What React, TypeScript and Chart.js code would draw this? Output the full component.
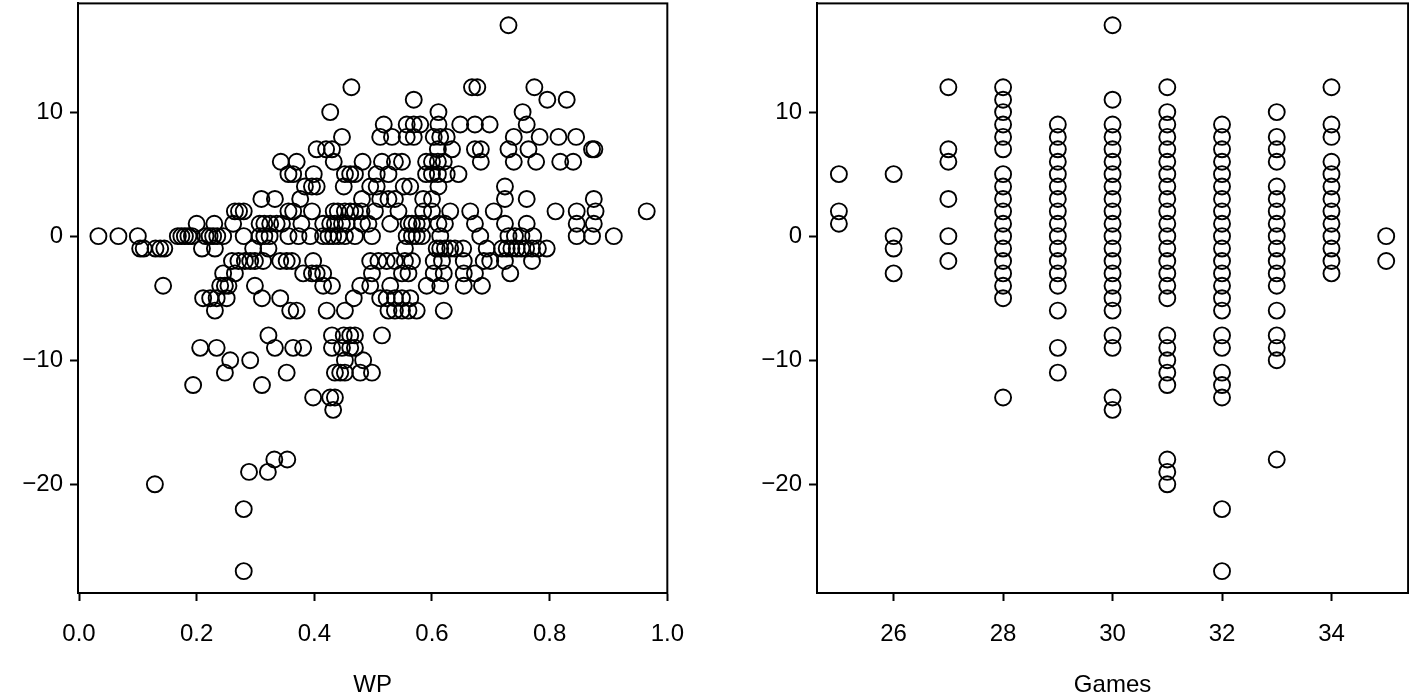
import React, { useEffect, useRef } from "react";
import { Chart, registerables } from "chart.js";

Chart.register(...registerables);

// ---------- Left panel: WP vs run differential ----------
const diffLevels = [17, 12, 11, 10, 9, 8, 7, 6, 5, 4, 3, 2, 1, 0, -1, -2, -3, -4, -5, -6, -8, -9, -10, -11, -12, -13, -14, -18, -19, -20, -22, -27];
const wpAtLevel: number[][] = [
  [0.73],
  [0.463, 0.668, 0.677, 0.774],
  [0.569, 0.796, 0.829],
  [0.427, 0.611, 0.754],
  [0.518, 0.557, 0.569, 0.58, 0.611, 0.648, 0.673, 0.698, 0.761],
  [0.447, 0.512, 0.532, 0.557, 0.569, 0.603, 0.614, 0.625, 0.739, 0.783, 0.815, 0.845],
  [0.404, 0.42, 0.43, 0.61, 0.634, 0.673, 0.683, 0.73, 0.764, 0.872, 0.876],
  [0.343, 0.37, 0.433, 0.482, 0.515, 0.537, 0.549, 0.59, 0.6, 0.61, 0.62, 0.683, 0.739, 0.777, 0.818, 0.84],
  [0.356, 0.364, 0.399, 0.452, 0.461, 0.469, 0.506, 0.526, 0.59, 0.6, 0.61, 0.625, 0.645],
  [0.384, 0.396, 0.404, 0.45, 0.495, 0.506, 0.552, 0.563, 0.611, 0.724],
  [0.31, 0.333, 0.376, 0.481, 0.512, 0.526, 0.537, 0.585, 0.6, 0.724, 0.761, 0.875],
  [0.265, 0.272, 0.28, 0.356, 0.364, 0.396, 0.433, 0.44, 0.452, 0.461, 0.469, 0.48, 0.503, 0.543, 0.585, 0.6, 0.631, 0.665, 0.705, 0.81, 0.846, 0.878, 0.965],
  [0.2, 0.23, 0.262, 0.307, 0.315, 0.325, 0.336, 0.345, 0.378, 0.415, 0.427, 0.435, 0.447, 0.455, 0.481, 0.492, 0.529, 0.56, 0.566, 0.574, 0.583, 0.611, 0.622, 0.673, 0.724, 0.761, 0.846, 0.875],
  [0.033, 0.067, 0.1, 0.168, 0.174, 0.18, 0.186, 0.192, 0.215, 0.222, 0.228, 0.235, 0.245, 0.28, 0.307, 0.315, 0.324, 0.356, 0.373, 0.393, 0.415, 0.424, 0.432, 0.441, 0.452, 0.469, 0.498, 0.557, 0.566, 0.574, 0.583, 0.614, 0.682, 0.73, 0.741, 0.752, 0.772, 0.846, 0.872, 0.909],
  [0.104, 0.11, 0.13, 0.138, 0.145, 0.209, 0.231, 0.296, 0.322, 0.554, 0.608, 0.614, 0.622, 0.631, 0.639, 0.653, 0.693, 0.719, 0.727, 0.735, 0.744, 0.752, 0.76, 0.77, 0.78, 0.795],
  [0.26, 0.271, 0.282, 0.291, 0.299, 0.313, 0.342, 0.353, 0.362, 0.398, 0.495, 0.509, 0.523, 0.537, 0.554, 0.566, 0.603, 0.617, 0.654, 0.688, 0.699, 0.724, 0.77],
  [0.245, 0.265, 0.381, 0.396, 0.404, 0.415, 0.498, 0.549, 0.56, 0.603, 0.62, 0.654, 0.673, 0.733],
  [0.143, 0.24, 0.248, 0.254, 0.299, 0.415, 0.43, 0.478, 0.495, 0.529, 0.591, 0.614, 0.654, 0.685],
  [0.211, 0.223, 0.234, 0.251, 0.311, 0.342, 0.467, 0.512, 0.523, 0.537, 0.549, 0.563],
  [0.231, 0.359, 0.37, 0.421, 0.452, 0.526, 0.537, 0.549, 0.56, 0.574, 0.62],
  [0.322, 0.43, 0.45, 0.461, 0.469, 0.515],
  [0.206, 0.234, 0.333, 0.364, 0.381, 0.43, 0.447, 0.461, 0.469],
  [0.257, 0.291, 0.452, 0.483],
  [0.248, 0.353, 0.435, 0.444, 0.452, 0.478, 0.498],
  [0.194, 0.311],
  [0.398, 0.427, 0.435],
  [0.432],
  [0.332, 0.354],
  [0.289, 0.321],
  [0.129],
  [0.28],
  [0.28],
];
const wpTicks = [0, 0.2, 0.4, 0.6, 0.8, 1.0];

// ---------- Right panel: Games vs run differential ----------
const gameCounts = [25, 26, 27, 28, 29, 30, 31, 32, 33, 34, 35];
const diffAtGames: number[][] = [
  [5, 2, 1],
  [5, 0, -1, -3],
  [12, 7, 6, 3, 0, -2],
  [12, 11, 10, 9, 8, 7, 5, 4, 3, 2, 1, 0, -1, -2, -3, -4, -5, -13],
  [9, 8, 7, 6, 5, 4, 3, 2, 1, 0, -1, -2, -3, -4, -6, -9, -11],
  [17, 11, 9, 8, 7, 6, 5, 4, 3, 2, 1, 0, -1, -2, -3, -4, -5, -6, -8, -9, -13, -14],
  [12, 10, 9, 8, 7, 6, 5, 4, 3, 2, 1, 0, -1, -2, -3, -4, -5, -8, -9, -10, -11, -12, -18, -19, -20],
  [9, 8, 7, 6, 5, 4, 3, 2, 1, 0, -1, -2, -3, -4, -5, -6, -8, -9, -11, -12, -13, -22, -27],
  [10, 8, 7, 6, 4, 3, 2, 1, 0, -1, -2, -3, -4, -6, -8, -9, -10, -18],
  [12, 9, 8, 6, 5, 4, 3, 2, 1, 0, -1, -2, -3],
  [0, -2],
];
const gameTicks = [26, 28, 30, 32, 34];
const diffTicks = [-20, -10, 0, 10];

const FONT = { family: "'Liberation Sans', Arial, Helvetica, sans-serif", size: 24 };
const TOP_SHIFT = 18;

const boxPlugin = {
  id: "rbox",
  afterDraw(chart: any) {
    const { ctx, chartArea } = chart;
    ctx.save();
    ctx.strokeStyle = "#000";
    ctx.lineWidth = 2;
    ctx.strokeRect(chartArea.left, chartArea.top, chartArea.right - chartArea.left, chartArea.bottom - chartArea.top);
    ctx.restore();
  },
};

function fmtMinus(v: number, digits: number) {
  const s = Math.abs(v).toFixed(digits);
  return v < 0 ? "\u2212" + s : s;
}

function makeChart(
  canvas: HTMLCanvasElement,
  points: { x: number; y: number }[],
  xMin: number,
  xMax: number,
  xTicks: number[],
  xDigits: number,
  xTitle: string,
  yWidth: number,
  rightPad: number
) {
  return new Chart(canvas, {
    type: "scatter",
    data: {
      datasets: [
        {
          data: points,
          pointStyle: "circle",
          pointRadius: 8,
          pointBorderWidth: 1.9,
          pointBorderColor: "#000",
          pointBackgroundColor: "rgba(0,0,0,0)",
          clip: false as any,
        },
      ],
    },
    options: {
      animation: false,
      responsive: false,
      events: [],
      layout: { padding: { top: 2, right: rightPad, left: 0, bottom: 0 } },
      plugins: { legend: { display: false }, tooltip: { enabled: false } },
      scales: {
        x: {
          type: "linear",
          min: xMin,
          max: xMax,
          afterBuildTicks: (s: any) => {
            s.ticks = xTicks.map((v) => ({ value: v }));
          },
          afterFit: (s: any) => {
            s.height = 101;
          },
          ticks: {
            callback: (v: any) => fmtMinus(Number(v), xDigits),
            font: FONT,
            color: "#000",
            padding: 19,
            maxRotation: 0,
            autoSkip: false,
          },
          grid: { drawOnChartArea: false, drawTicks: true, tickLength: 8, tickWidth: 2, tickColor: "#000" },
          border: { display: true, color: "#000", width: 2 },
          title: { display: true, text: xTitle, font: { ...FONT, lineHeight: 0.75 }, color: "#000", padding: { top: 0, bottom: 0 } },
        },
        y: {
          type: "linear",
          min: -28.76,
          max: 18.76,
          afterBuildTicks: (s: any) => {
            s.ticks = diffTicks.map((v) => ({ value: v }));
          },
          afterFit: (s: any) => {
            s.width = yWidth;
          },
          ticks: {
            callback: (v: any) => fmtMinus(Number(v), 0),
            font: FONT,
            color: "#000",
            padding: 7,
            autoSkip: false,
          },
          grid: { drawOnChartArea: false, drawTicks: true, tickLength: 8, tickWidth: 2, tickColor: "#000" },
          border: { display: true, color: "#000", width: 2 },
        },
      },
    },
    plugins: [boxPlugin],
  } as any);
}

export default function App() {
  const leftRef = useRef<HTMLCanvasElement>(null);
  const rightRef = useRef<HTMLCanvasElement>(null);

  useEffect(() => {
    const leftPts: { x: number; y: number }[] = [];
    diffLevels.forEach((d, i) => wpAtLevel[i].forEach((w) => leftPts.push({ x: w, y: d })));
    const rightPts: { x: number; y: number }[] = [];
    gameCounts.forEach((g, i) => diffAtGames[i].forEach((d) => rightPts.push({ x: g, y: d })));

    const c1 = makeChart(leftRef.current!, leftPts, -0.0017, 1.0, wpTicks, 1, "WP", 78, 33);
    const c2 = makeChart(rightRef.current!, rightPts, 24.6, 35.4, gameTicks, 0, "Games", 117, 3);
    return () => {
      c1.destroy();
      c2.destroy();
    };
  }, []);

  return (
    <div style={{ position: "absolute", left: 0, top: 0, width: 1409, height: 694, background: "#fff", overflow: "hidden" }}>
      <canvas ref={leftRef} width={703} height={694 + TOP_SHIFT} style={{ position: "absolute", left: 0, top: -TOP_SHIFT }} />
      <canvas ref={rightRef} width={718} height={694 + TOP_SHIFT} style={{ position: "absolute", left: 700, top: -TOP_SHIFT }} />
    </div>
  );
}
